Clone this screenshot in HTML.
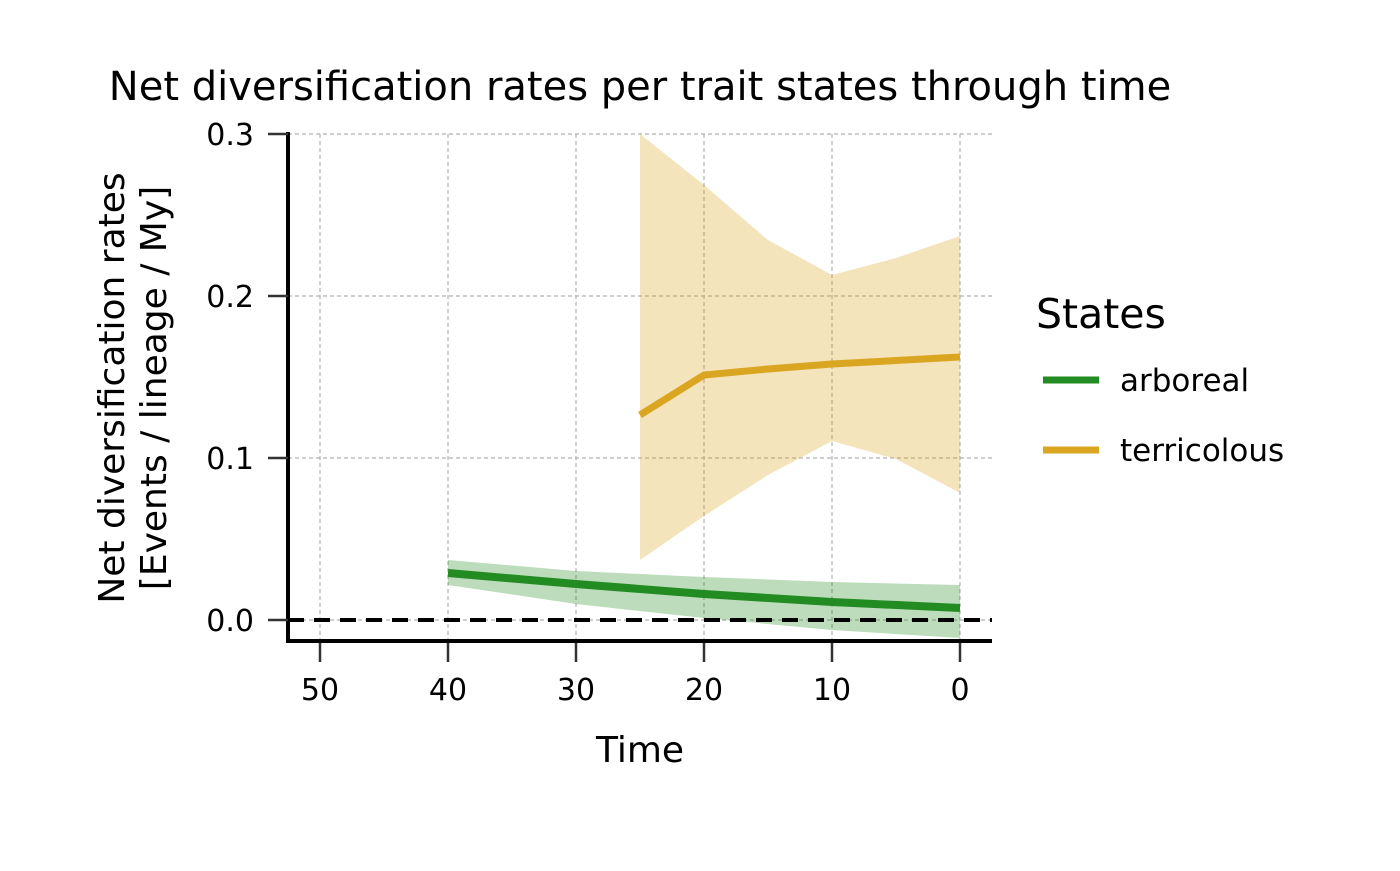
<!DOCTYPE html>
<html><head><style>body{margin:0;background:#fff}</style></head><body>
<svg width="1400" height="866" xmlns="http://www.w3.org/2000/svg" font-family="DejaVu Sans, Liberation Sans, sans-serif">
<rect width="1400" height="866" fill="#fff"/>
<g stroke="#b0b0b0" stroke-width="1.2" stroke-dasharray="4,3">
<line x1="320" y1="134" x2="320" y2="641"/><line x1="448" y1="134" x2="448" y2="641"/>
<line x1="576" y1="134" x2="576" y2="641"/><line x1="704" y1="134" x2="704" y2="641"/>
<line x1="832" y1="134" x2="832" y2="641"/><line x1="960" y1="134" x2="960" y2="641"/>
<line x1="288" y1="134" x2="992" y2="134"/><line x1="288" y1="296" x2="992" y2="296"/>
<line x1="288" y1="458" x2="992" y2="458"/><line x1="288" y1="620" x2="992" y2="620"/>
</g>
<polygon fill="#daa520" fill-opacity="0.3" points="640,134 704,185 768,240 832,275 896,258 960,236 960,493 896,459 832,441 768,475 704,516 640,560"/>
<polygon fill="#228b22" fill-opacity="0.3" points="448,560 576,571 704,577 832,582 960,585 960,638 832,630 704,618 576,604 448,585"/>
<polyline fill="none" stroke="#228b22" stroke-width="8" points="448,573 576,584 704,594 832,602 960,608"/>
<polyline fill="none" stroke="#daa520" stroke-width="7" points="640,415 704,375 768,369 832,364 960,357"/>
<line x1="288" y1="620" x2="992" y2="620" stroke="#000" stroke-width="4" stroke-dasharray="16,10"/>
<line x1="288" y1="132" x2="288" y2="643" stroke="#000" stroke-width="4"/>
<line x1="286" y1="641" x2="992" y2="641" stroke="#000" stroke-width="4"/>
<g stroke="#333" stroke-width="2.5">
<line x1="320" y1="643" x2="320" y2="662"/><line x1="448" y1="643" x2="448" y2="662"/>
<line x1="576" y1="643" x2="576" y2="662"/><line x1="704" y1="643" x2="704" y2="662"/>
<line x1="832" y1="643" x2="832" y2="662"/><line x1="960" y1="643" x2="960" y2="662"/>
<line x1="268" y1="134" x2="288" y2="134"/><line x1="268" y1="296" x2="288" y2="296"/>
<line x1="268" y1="458" x2="288" y2="458"/><line x1="268" y1="620" x2="288" y2="620"/>
</g>
<g font-size="30" fill="#000" text-anchor="middle">
<text x="320" y="700">50</text><text x="448" y="700">40</text><text x="576" y="700">30</text>
<text x="704" y="700">20</text><text x="832" y="700">10</text><text x="960" y="700">0</text>
</g>
<g font-size="30" fill="#000" text-anchor="end">
<text x="254" y="145">0.3</text><text x="254" y="307">0.2</text><text x="254" y="469">0.1</text><text x="254" y="631">0.0</text>
</g>
<text x="640" y="762" font-size="36" text-anchor="middle">Time</text>
<text x="640" y="100" font-size="40" text-anchor="middle">Net diversification rates per trait states through time</text>
<text transform="translate(124,388) rotate(-90)" font-size="36" text-anchor="middle">Net diversification rates</text>
<text transform="translate(166,388) rotate(-90)" font-size="36" text-anchor="middle">[Events / lineage / My]</text>
<text x="1036" y="328" font-size="41">States</text>
<line x1="1043" y1="380" x2="1099" y2="380" stroke="#228b22" stroke-width="7"/>
<text x="1120" y="391" font-size="31">arboreal</text>
<line x1="1043" y1="450" x2="1099" y2="450" stroke="#daa520" stroke-width="7"/>
<text x="1120" y="461" font-size="31">terricolous</text>
</svg>
</body></html>
